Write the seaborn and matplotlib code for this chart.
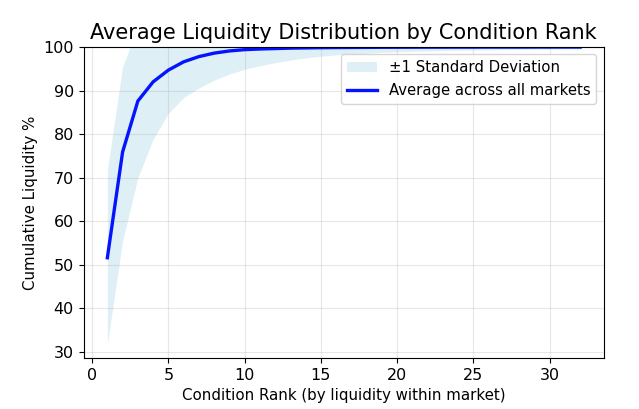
import numpy as np
import pandas as pd
import matplotlib
matplotlib.use("Agg")
import matplotlib.pyplot as plt
import seaborn as sns

# condition rank 1..32
ranks = list(range(1, 33))

# average cumulative liquidity % across markets
avg_cum = [51.6, 75.9, 87.6, 92.0, 94.7, 96.6, 97.8, 98.6, 99.1, 99.4,
           99.55, 99.65, 99.75, 99.8, 99.85, 99.88, 99.9, 99.92, 99.94, 99.95,
           99.96, 99.97, 99.97, 99.98, 99.98, 99.99, 99.99, 99.99, 100.0, 100.0,
           100.0, 100.0]

# mean - std / mean + std
lower_band = [31.8, 55.5, 70.0, 78.8, 84.8, 88.4, 90.6, 92.4, 93.8, 94.9,
              95.7, 96.4, 97.0, 97.5, 97.9, 98.2, 98.4, 98.6, 98.8, 98.9,
              99.0, 99.1, 99.2, 99.25, 99.3, 99.35, 99.4, 99.45, 99.5, 99.5,
              99.55, 99.55]
upper_band = [71.6, 95.5, 104.5, 105.0, 104.6, 104.0, 103.4, 102.8, 102.3, 101.9,
              101.5, 101.2, 101.0, 100.8, 100.7, 100.6, 100.5, 100.45, 100.4, 100.35,
              100.3, 100.3, 100.25, 100.2, 100.2, 100.2, 100.15, 100.15, 100.1, 100.1,
              100.1, 100.1]

df = pd.DataFrame({"rank": ranks, "avg": avg_cum})

fig, ax = plt.subplots(figsize=(6.39, 4.09), dpi=100)
fig.subplots_adjust(left=0.131, right=0.945, top=0.885, bottom=0.125)

ax.fill_between(ranks, lower_band, upper_band, color="lightblue", alpha=0.4,
                linewidth=0, label="±1 Standard Deviation")
sns.lineplot(data=df, x="rank", y="avg", ax=ax, color="#0514ff", linewidth=2.4,
             label="Average across all markets")

ax.set_ylim(28.6, 100)
ax.set_title("Average Liquidity Distribution by Condition Rank", fontsize=15)
ax.set_xlabel("Condition Rank (by liquidity within market)", fontsize=10.8)
ax.set_ylabel("Cumulative Liquidity %", fontsize=10.8)
ax.tick_params(labelsize=11.5)
ax.grid(True, alpha=0.3)
ax.legend(loc="upper right", fontsize=10.7)

plt.savefig("out.png", dpi=100)
